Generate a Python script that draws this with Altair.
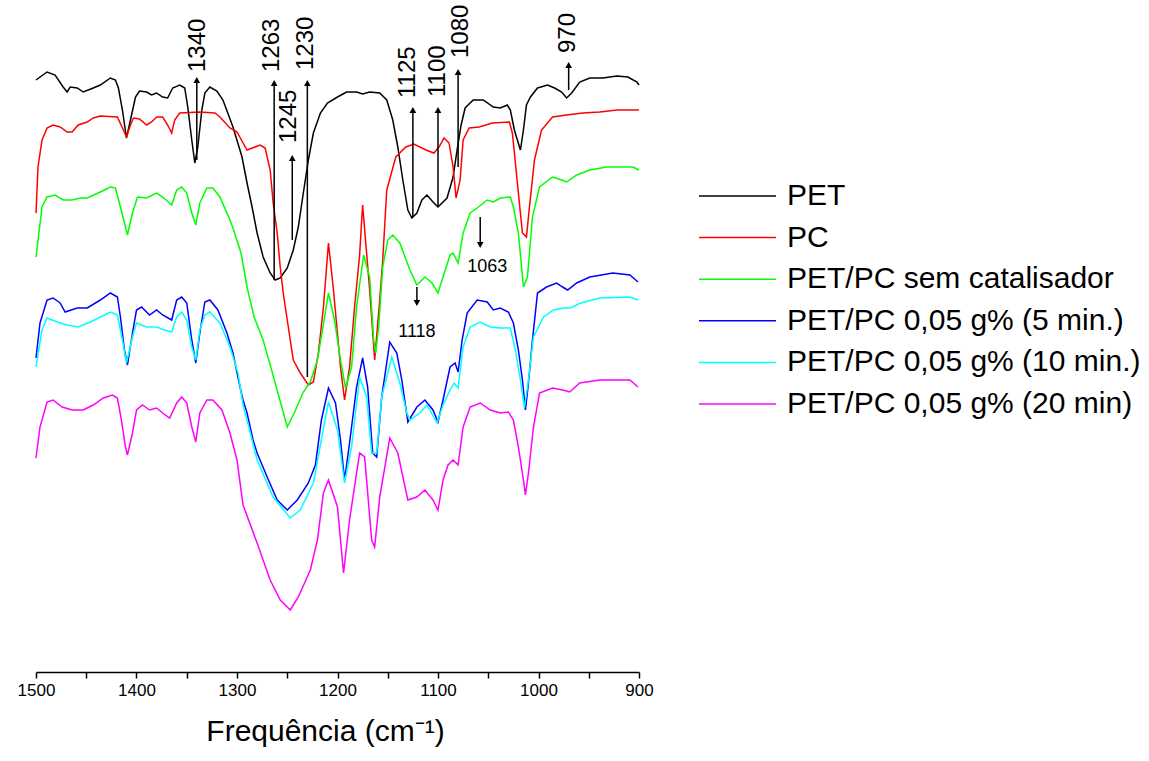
import altair as alt
import pandas as pd

# ---------------- data ----------------
series_names = ["PET", "PC", "PET/PC sem catalisador",
                "PET/PC 0,05 g% (5 min.)", "PET/PC 0,05 g% (10 min.)",
                "PET/PC 0,05 g% (20 min)"]
series_colors = ["#000000", "#FF0000", "#00FF00", "#0000FF", "#00FFFF", "#FF00FF"]

pet_wn = [1500, 1489, 1481, 1473, 1469, 1466, 1459, 1453, 1443, 1436, 1426, 1421, 1418, 1414, 1410, 1406,
          1401, 1397, 1390, 1385, 1380, 1374, 1369, 1364, 1357, 1352, 1349, 1345, 1342, 1339, 1335, 1332,
          1327, 1320, 1314, 1304, 1295, 1290, 1285, 1280, 1274, 1267, 1262, 1257, 1250, 1244, 1239, 1234,
          1229, 1224, 1217, 1210, 1200, 1191, 1181, 1175, 1168, 1158, 1151, 1145, 1140, 1135, 1130, 1126,
          1121, 1116, 1111, 1105, 1100, 1091, 1085, 1081, 1077, 1073, 1065, 1055, 1045, 1038, 1031, 1028,
          1024, 1018, 1015, 1012, 1008, 1001, 991, 984, 977, 972, 967, 959, 949, 936, 922, 911, 902, 900]
pet_t = [592, 600, 597, 585, 580, 585, 584, 580, 584, 587, 594, 592, 584, 562, 534, 552,
         575, 581, 580, 577, 579, 575, 574, 584, 587, 584, 565, 532, 509, 525, 562, 579,
         585, 581, 572, 545, 515, 489, 465, 439, 415, 399, 392, 394, 404, 422, 445, 479,
         512, 539, 559, 569, 575, 580, 580, 578, 580, 579, 572, 552, 525, 492, 462, 454,
         459, 472, 477, 470, 465, 474, 495, 522, 547, 564, 572, 572, 565, 564, 567, 562,
         542, 522, 542, 567, 575, 584, 587, 584, 580, 574, 579, 590, 594, 594, 596, 595, 590, 587]

pc_wn = [1500, 1498, 1494, 1489, 1483, 1476, 1469, 1464, 1458, 1449, 1443, 1436, 1419, 1414, 1410, 1406,
         1403, 1397, 1390, 1385, 1380, 1374, 1369, 1365, 1362, 1357, 1337, 1322, 1317, 1307, 1300, 1290,
         1277, 1272, 1267, 1264, 1260, 1257, 1254, 1250, 1244, 1237, 1229, 1224, 1219, 1214, 1209, 1204,
         1197, 1193, 1188, 1183, 1178, 1175, 1168, 1163, 1158, 1155, 1151, 1142, 1132, 1124, 1112, 1104,
         1099, 1094, 1089, 1085, 1082, 1078, 1075, 1069, 1059, 1046, 1029, 1026, 1021, 1016, 1012, 1009,
         1004, 997, 986, 972, 956, 939, 922, 900]
pc_t = [459, 505, 532, 544, 547, 545, 540, 540, 547, 550, 554, 556, 555, 544, 535, 547,
        554, 553, 547, 550, 555, 555, 547, 539, 552, 559, 560, 559, 555, 544, 540, 522,
        527, 524, 502, 469, 439, 405, 379, 352, 312, 299, 287, 290, 319, 365, 429, 382,
        305, 272, 305, 365, 417, 467, 382, 312, 372, 412, 482, 515, 525, 528, 522, 519,
        525, 534, 529, 505, 474, 492, 532, 544, 545, 549, 550, 539, 489, 439, 435, 465,
        512, 542, 555, 557, 559, 560, 562, 562]

blend_wn = [1500, 1494, 1489, 1481, 1473, 1464, 1456, 1449, 1436, 1426, 1421, 1416, 1409, 1404, 1399, 1390,
            1380, 1374, 1365, 1360, 1355, 1350, 1345, 1341, 1337, 1330, 1324, 1317, 1307, 1304, 1296, 1290,
            1283, 1274, 1265, 1256, 1250, 1243, 1234, 1227, 1220, 1215, 1209, 1203, 1197, 1192, 1186, 1181,
            1174, 1168, 1164, 1162, 1159, 1155, 1150, 1145, 1138, 1128, 1121, 1113, 1106, 1100, 1095, 1088,
            1085, 1080, 1075, 1068, 1061, 1051, 1045, 1038, 1028, 1025, 1020, 1015, 1011, 1006, 999, 986,
            977, 972, 962, 949, 932, 906, 900]
blend_t = [415, 465, 475, 477, 472, 472, 474, 474, 480, 485, 484, 465, 437, 459, 475, 474,
           479, 475, 467, 482, 485, 479, 459, 447, 469, 484, 484, 475, 452, 444, 419, 385,
           355, 332, 300, 267, 245, 259, 280, 290, 312, 342, 379, 352, 312, 284, 305, 365,
           417, 395, 332, 319, 345, 405, 432, 437, 429, 402, 387, 395, 389, 379, 395, 417,
           419, 409, 439, 459, 464, 472, 470, 474, 475, 465, 439, 385, 395, 455, 485, 495,
           492, 490, 497, 502, 505, 505, 502]

c5_wn = [1500, 1496, 1489, 1483, 1476, 1471, 1459, 1449, 1436, 1426, 1419, 1416, 1412, 1409, 1404, 1400,
         1395, 1387, 1380, 1374, 1365, 1360, 1355, 1350, 1345, 1341, 1337, 1332, 1327, 1319, 1310, 1304,
         1297, 1294, 1290, 1284, 1280, 1270, 1260, 1250, 1240, 1229, 1222, 1216, 1209, 1202, 1197, 1193,
         1188, 1181, 1175, 1170, 1165, 1161, 1156, 1148, 1141, 1136, 1130, 1121, 1113, 1105, 1100, 1095,
         1088, 1083, 1080, 1076, 1071, 1061, 1051, 1045, 1038, 1030, 1025, 1020, 1016, 1013, 1010, 1006,
         1001, 992, 982, 976, 971, 962, 949, 926, 909, 901]
c5_t = [314, 349, 372, 374, 369, 360, 364, 364, 372, 379, 375, 355, 322, 307, 339, 362,
        365, 357, 362, 357, 352, 372, 375, 369, 332, 309, 339, 370, 372, 362, 339, 319,
        285, 272, 259, 232, 219, 195, 172, 162, 172, 189, 207, 252, 284, 269, 232, 192,
        229, 285, 314, 285, 219, 215, 275, 330, 319, 292, 250, 265, 272, 262, 250, 272,
        305, 309, 300, 332, 359, 372, 370, 362, 364, 360, 349, 322, 292, 262, 289, 332,
        379, 385, 389, 385, 382, 389, 395, 399, 397, 390]

c10_wn = [1500, 1494, 1489, 1479, 1469, 1458, 1446, 1436, 1426, 1419, 1414, 1410, 1404, 1400, 1390, 1380,
          1372, 1365, 1360, 1355, 1350, 1345, 1341, 1337, 1332, 1327, 1317, 1307, 1299, 1294, 1290, 1280,
          1264, 1247, 1237, 1224, 1217, 1209, 1200, 1193, 1186, 1178, 1171, 1166, 1161, 1156, 1146, 1138,
          1131, 1128, 1118, 1111, 1101, 1095, 1088, 1084, 1080, 1075, 1068, 1058, 1048, 1038, 1028, 1023,
          1018, 1014, 1010, 1005, 995, 985, 975, 968, 958, 939, 909, 901]
c10_t = [305, 342, 354, 350, 347, 345, 350, 355, 360, 357, 332, 309, 335, 349, 345, 345,
         342, 340, 355, 360, 352, 325, 312, 342, 357, 360, 349, 325, 299, 267, 252, 212,
         175, 154, 162, 189, 227, 270, 242, 189, 225, 295, 275, 219, 219, 275, 315, 289,
         259, 252, 259, 267, 249, 267, 282, 289, 284, 325, 345, 350, 345, 344, 344, 322,
         292, 264, 292, 335, 355, 362, 364, 364, 369, 374, 375, 372]

c20_wn = [1500, 1496, 1489, 1483, 1474, 1464, 1453, 1443, 1433, 1424, 1419, 1415, 1411, 1409, 1404, 1400,
          1394, 1387, 1380, 1374, 1367, 1360, 1355, 1350, 1345, 1341, 1337, 1330, 1324, 1315, 1307, 1300,
          1294, 1280, 1267, 1257, 1247, 1239, 1227, 1220, 1214, 1209, 1200, 1194, 1188, 1178, 1173, 1166,
          1163, 1158, 1148, 1140, 1130, 1121, 1113, 1105, 1100, 1095, 1090, 1085, 1080, 1075, 1068, 1058,
          1048, 1038, 1030, 1025, 1020, 1015, 1013, 1010, 1005, 999, 986, 976, 969, 959, 939, 909, 901]
c20_t = [214, 245, 270, 272, 265, 262, 262, 267, 274, 277, 274, 252, 225, 217, 239, 262,
         267, 262, 264, 259, 254, 269, 275, 269, 245, 230, 259, 272, 272, 262, 239, 212,
         167, 129, 92, 72, 62, 75, 102, 132, 179, 192, 165, 99, 152, 219, 215, 132,
         125, 175, 234, 219, 172, 175, 182, 172, 162, 192, 207, 212, 207, 245, 265, 269,
         262, 259, 260, 252, 225, 192, 177, 199, 245, 279, 284, 282, 280, 289, 292, 292, 285]

# peak annotations: wavenumber, arrow start, arrowhead, label anchor
up_wn = [1340, 1263, 1245, 1230, 1125, 1100, 1080, 970]
up_from = [512, 392, 432, 295, 455, 465, 505, 582]
up_head = [592, 589, 514, 589, 562, 562, 600, 607]
up_label = ["1340", "1263", "1245", "1230", "1125", "1100", "1080", "970"]
up_label_wn = [1339, 1265, 1248, 1231, 1130, 1100, 1077, 971]
up_label_t = [600, 600, 529, 602, 574, 575, 614, 619]

down_wn = [1058, 1121]
down_from = [455, 385]
down_head = [427, 369]
down_label = ["1063", "1118"]
down_label_wn = [1051, 1121]
down_label_t = [405, 340]

# ---------------- build tables ----------------
rows = []
for name, wn, t in zip(series_names,
                       [pet_wn, pc_wn, blend_wn, c5_wn, c10_wn, c20_wn],
                       [pet_t, pc_t, blend_t, c5_t, c10_t, c20_t]):
    for i, (w, v) in enumerate(zip(wn, t)):
        rows.append({"serie": name, "wn": w, "t": v, "i": i})
df = pd.DataFrame(rows)

up_df = pd.DataFrame({"wn": up_wn, "t0": up_from, "t1": up_head})
down_df = pd.DataFrame({"wn": down_wn, "t0": down_from, "t1": down_head})
up_lab = pd.DataFrame({"wn": up_label_wn, "t": up_label_t, "txt": up_label})
down_lab = pd.DataFrame({"wn": down_label_wn, "t": down_label_t, "txt": down_label})

FONT = "Liberation Sans"
xscale = alt.Scale(domain=[1500, 900], nice=False, zero=False)
yscale = alt.Scale(domain=[0, 672], nice=False, zero=False)

x_axis = alt.Axis(
    values=list(range(900, 1501, 50)),
    labelExpr="datum.value % 100 == 0 ? datum.value : ''",
    grid=False, domainColor="black", domainWidth=1.5, tickColor="black",
    tickWidth=1.5, tickSize=6, labelColor="black", labelFont=FONT,
    labelFontSize=17, labelPadding=4, labelFlush=False,
    title="Frequência (cm⁻¹)", titleFont=FONT, titleFontSize=30,
    titleFontWeight="normal", titleColor="black", titlePadding=18,
    titleX=289, titleAlign="center",
)

lines = alt.Chart(df).mark_line(strokeWidth=1.5).encode(
    x=alt.X("wn:Q", scale=xscale, axis=x_axis),
    y=alt.Y("t:Q", scale=yscale, axis=None),
    color=alt.Color("serie:N",
                    scale=alt.Scale(domain=series_names, range=series_colors),
                    sort=series_names,
                    legend=alt.Legend(
                        title=None, orient="none", legendX=662, legendY=181,
                        symbolType="stroke", symbolSize=5929, symbolStrokeWidth=1.5,
                        clipHeight=30,
                        labelFont=FONT, labelFontSize=30, labelColor="black",
                        labelLimit=1000, labelOffset=10, rowPadding=11.6)),
    order="i:Q",
)

up_rules = alt.Chart(up_df).mark_rule(color="black", strokeWidth=1.5).encode(
    x=alt.X("wn:Q", scale=xscale), y=alt.Y("t0:Q", scale=yscale), y2="t1:Q")
up_heads = alt.Chart(up_df).mark_point(shape="triangle-up", filled=True, color="black",
                                       size=45, opacity=1).encode(
    x=alt.X("wn:Q", scale=xscale), y=alt.Y("t1:Q", scale=yscale))
down_rules = alt.Chart(down_df).mark_rule(color="black", strokeWidth=1.5).encode(
    x=alt.X("wn:Q", scale=xscale), y=alt.Y("t0:Q", scale=yscale), y2="t1:Q")
down_heads = alt.Chart(down_df).mark_point(shape="triangle-down", filled=True, color="black",
                                           size=45, opacity=1).encode(
    x=alt.X("wn:Q", scale=xscale), y=alt.Y("t1:Q", scale=yscale))
up_text = alt.Chart(up_lab).mark_text(angle=270, align="left", baseline="middle",
                                      font=FONT, fontSize=24, color="black").encode(
    x=alt.X("wn:Q", scale=xscale), y=alt.Y("t:Q", scale=yscale), text="txt:N")
down_text = alt.Chart(down_lab).mark_text(align="center", baseline="middle",
                                          font=FONT, fontSize=18, color="black").encode(
    x=alt.X("wn:Q", scale=xscale), y=alt.Y("t:Q", scale=yscale), text="txt:N")

chart = alt.layer(lines, up_rules, up_heads, down_rules, down_heads, up_text, down_text).properties(
    width=603, height=672,
    autosize=alt.AutoSizeParams(type="none"),
    padding={"left": 36, "top": 0, "right": 510, "bottom": 89},
    background="white",
).configure_view(stroke=None)

chart.save("out.html", embed_options={"renderer": "svg", "actions": False})
